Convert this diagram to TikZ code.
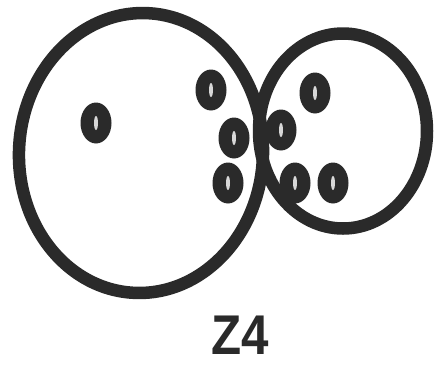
\documentclass[tikz,border=0pt]{standalone}
\usepackage{fontspec}
\setmainfont{Liberation Sans}
\usetikzlibrary{shapes.geometric}
\definecolor{ink}{HTML}{2A2A2A}
\definecolor{hole}{HTML}{D8D8D8}
\tikzset{
  ring/.style={draw=ink, line width=12.5pt, ellipse, inner sep=0pt, fill=none},
  dot/.style={fill=ink, ellipse, inner sep=0pt, minimum width=31pt, minimum height=41pt,
    path picture={\fill[hole] (path picture bounding box.center) ellipse [x radius=2pt, y radius=7pt];}},
  lbl/.style={font=\bfseries\fontsize{56}{56}\selectfont, text=ink, inner sep=0pt, xscale=0.88}
}
\begin{document}
\begin{tikzpicture}[x=1pt,y=-1pt]
\useasboundingbox[fill=white] (0,0) rectangle (434,365);
\node[ring, minimum width=244pt, minimum height=280pt, rotate=-3] (L) at (141,153) {};
\node[ring, minimum width=168pt, minimum height=195pt] (R) at (343,131) {};
\node[dot] (d1) at (96,123) {};
\node[dot] (d2) at (211,90) {};
\node[dot] (d3) at (315,93) {};
\node[dot] (d4) at (234,138) {};
\node[dot] (d5) at (281,130) {};
\node[dot] (d6) at (228,183) {};
\node[dot] (d7) at (295,183) {};
\node[dot] (d8) at (333,183) {};
\node[lbl] (z) at (240,335) {Z4};
\end{tikzpicture}
\end{document}
